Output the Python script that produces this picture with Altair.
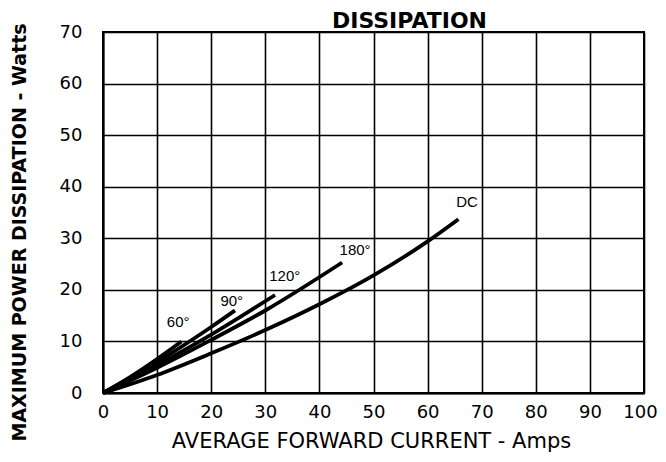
import altair as alt
import pandas as pd

# ---- data ----
x_60 = [0, 5, 10, 14.5]
y_60 = [0, 3.1, 6.6, 10.0]
x_90 = [0, 10, 20, 24.4]
y_90 = [0, 6.0, 12.8, 16.0]
x_120 = [0, 10, 20, 31.8]
y_120 = [0, 5.4, 11.3, 19.0]
x_180 = [0, 10, 20, 30, 44.2]
y_180 = [0, 4.9, 10.3, 16.0, 25.3]
x_dc = [0, 10, 20, 30, 40, 50, 60, 65.7]
y_dc = [0, 3.5, 7.7, 12.2, 17.2, 22.8, 29.4, 33.7]

series_names = ["60°", "90°", "120°", "180°", "DC"]
label_text = ["60°", "90°", "120°", "180°", "DC"]
label_x = [13.9, 23.8, 33.6, 46.6, 67.3]
label_y = [13.8, 17.9, 22.7, 27.7, 37.1]

x_ticks = [0, 10, 20, 30, 40, 50, 60, 70, 80, 90, 100]
y_ticks = [0, 10, 20, 30, 40, 50, 60, 70]

# ---- tables ----
rows = []
for name, xs, ys in zip(series_names,
                        [x_60, x_90, x_120, x_180, x_dc],
                        [y_60, y_90, y_120, y_180, y_dc]):
    for i, (a, b) in enumerate(zip(xs, ys)):
        rows.append({"series": name, "idx": i, "x": a, "y": b})
lines_df = pd.DataFrame(rows)
labels_df = pd.DataFrame({"text": label_text, "x": label_x, "y": label_y})

xscale = alt.Scale(domain=[0, 100], nice=False, zero=False)
yscale = alt.Scale(domain=[0, 70], nice=False, zero=False)

x_axis = alt.Axis(
    values=x_ticks, grid=True, gridColor="black", gridWidth=1.6, gridOpacity=1,
    domain=True, domainColor="black", domainWidth=2, ticks=False,
    labelFont="DejaVu Sans", labelFontSize=18, labelColor="black",
    labelPadding=10, labelFlush=False, labelOverlap=False,
    labelOffset=alt.condition("datum.value == 100", alt.value(-4), alt.value(0)),
    title="AVERAGE FORWARD CURRENT - Amps", titleFont="DejaVu Sans",
    titleFontSize=21, titleFontWeight="normal", titleColor="black",
    titleX=268, titleY=54, titleAlign="center", titleBaseline="alphabetic",
)
y_axis = alt.Axis(
    values=y_ticks, grid=True, gridColor="black", gridWidth=1.6, gridOpacity=1,
    domain=True, domainColor="black", domainWidth=2, ticks=False,
    labelFont="DejaVu Sans", labelFontSize=18, labelColor="black",
    labelPadding=21, labelFlush=False, labelOverlap=False,
    title="MAXIMUM POWER DISSIPATION - Watts", titleFont="DejaVu Sans",
    titleFontSize=19, titleFontWeight="bold", titleColor="black",
    titleAngle=270, titleX=-84, titleY=200, titleAlign="center",
    titleBaseline="middle",
)

lines = alt.Chart(lines_df).mark_line(
    color="black", strokeWidth=3.8, interpolate="monotone", strokeCap="butt"
).encode(
    x=alt.X("x:Q", scale=xscale, axis=x_axis),
    y=alt.Y("y:Q", scale=yscale, axis=y_axis),
    detail="series:N",
    order="idx:Q",
)

labels = alt.Chart(labels_df).mark_text(
    font="Liberation Sans", fontSize=15, color="black",
    align="center", baseline="middle"
).encode(
    x=alt.X("x:Q", scale=xscale),
    y=alt.Y("y:Q", scale=yscale),
    text="text:N",
)

chart = alt.layer(lines, labels).properties(
    width=541, height=361,
    autosize="none",
    padding={"left": 95, "top": 24, "right": 14, "bottom": 61},
    title=alt.TitleParams(
        "DISSIPATION", font="DejaVu Sans", fontSize=22, fontWeight="bold",
        color="black", anchor="middle", dx=36, dy=29, offset=2,
        baseline="alphabetic",
    ),
).configure_view(stroke="black", strokeWidth=2)

chart.save("out.html", embed_options={"renderer": "svg", "actions": False})
